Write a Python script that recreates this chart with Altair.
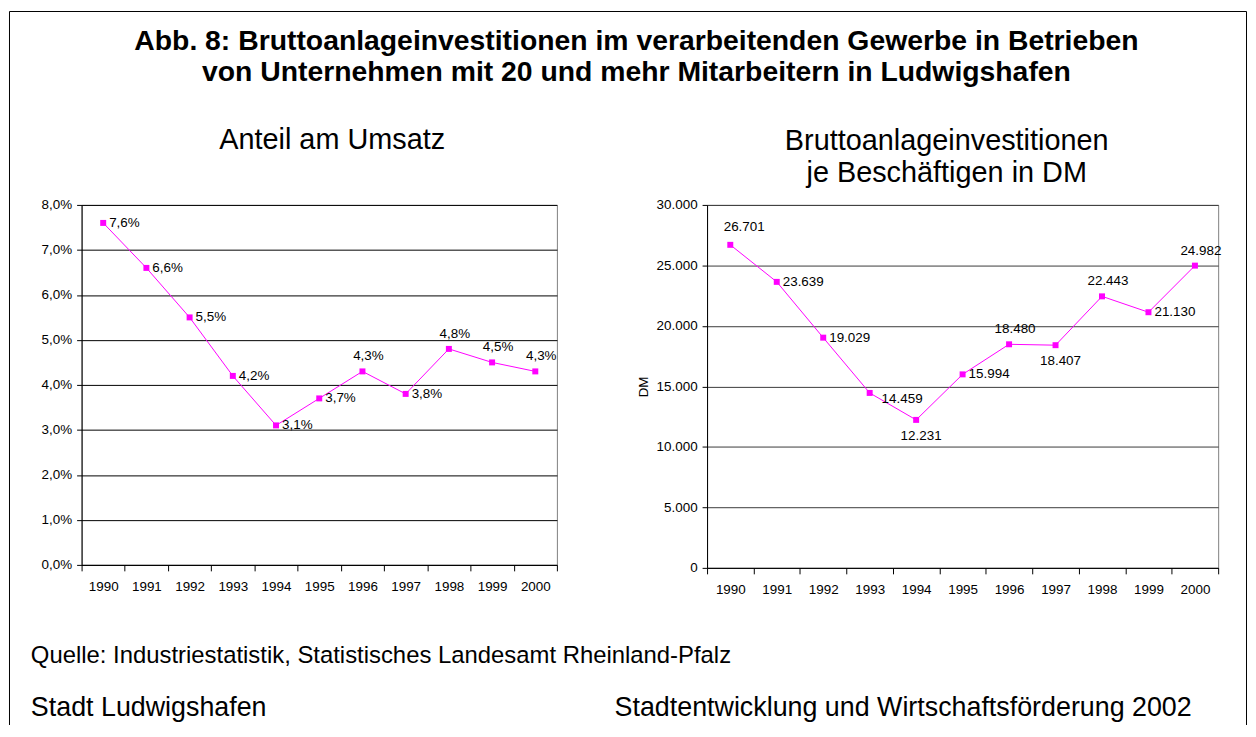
import altair as alt
import pandas as pd

# ---------------- data ----------------
YEARS = [1990, 1991, 1992, 1993, 1994, 1995, 1996, 1997, 1998, 1999, 2000]
SHARE = [0.076, 0.066, 0.055, 0.042, 0.031, 0.037, 0.043, 0.038, 0.048, 0.045, 0.043]
INVEST = [26701, 23639, 19029, 14459, 12231, 15994, 18480, 18407, 22443, 21130, 24982]
SHARE_TICKS = [0, 0.01, 0.02, 0.03, 0.04, 0.05, 0.06, 0.07, 0.08]
INVEST_TICKS = [0, 5000, 10000, 15000, 20000, 25000, 30000]

TITLE_LINES = [
    "Abb. 8: Bruttoanlageinvestitionen im verarbeitenden Gewerbe in Betrieben",
    "von Unternehmen mit 20 und mehr Mitarbeitern in Ludwigshafen",
]
LEFT_TITLE = "Anteil am Umsatz"
RIGHT_TITLE_LINES = ["Bruttoanlageinvestitionen", "je Beschäftigen in DM"]
RIGHT_YTITLE = "DM"
SOURCE = "Quelle: Industriestatistik, Statistisches Landesamt Rheinland-Pfalz"
FOOT_LEFT = "Stadt Ludwigshafen"
FOOT_RIGHT = "Stadtentwicklung und Wirtschaftsförderung 2002"

# which data labels sit where (label placement only)
LEFT_LABEL_GROUPS = {
    "right": [1990, 1991, 1992, 1993, 1994, 1995, 1997],
    "above": [1996, 1998, 1999, 2000],
}
RIGHT_LABEL_GROUPS = {
    "right": [1991, 1992, 1995, 1999],
    "right_low": [1993],
    "above_far": [1990],
    "above": [1996, 1998, 2000],
    "below": [1994, 1997],
}
LABEL_STYLES = {
    "right": dict(align="left", dx=6, dy=0),
    "right_low": dict(align="left", dx=12, dy=6),
    "above": dict(align="center", dx=6, dy=-15),
    "above_far": dict(align="center", dx=14, dy=-18),
    "below": dict(align="center", dx=5, dy=16),
}

MAGENTA = "#FF00FF"
FONT = "Liberation Sans"

share_df = pd.DataFrame({"year": YEARS, "value": SHARE})
invest_df = pd.DataFrame({"year": YEARS, "value": INVEST})

PCT_EXPR = "replace(format({v}, '.1%'), '.', ',')"
THOU_EXPR = "replace(format({v}, ','), ',', '.')"


def panel(df, domain, ticks, fmt, width, height, groups, grid_color, ytitle=None):
    xenc = alt.X(
        "year:O",
        bandPosition=0.5,
        scale=alt.Scale(type="band", paddingInner=0, paddingOuter=0),
        axis=alt.Axis(
            title=None, labelAngle=0, tickBand="extent", grid=False,
            tickSize=6, labelPadding=9, labelFontSize=13.5,
            labelColor="#000", tickColor="#000", domainColor="#000",
        ),
    )
    axis_kw = dict(
        values=ticks, labelExpr=fmt.format(v="datum.value"), grid=True,
        gridColor=grid_color, gridWidth=1, tickSize=5, labelPadding=5,
        labelFontSize=13.5, labelColor="#000", tickColor="#000", domainColor="#000",
    )
    if ytitle:
        axis_kw.update(
            title=ytitle, titleX=-64, titleY=height / 2, titleAngle=270,
            titleAlign="center", titleBaseline="middle", titleFontSize=13.5,
            titleFontWeight="normal", titleColor="#000",
        )
    else:
        axis_kw.update(title=None)
    yenc = alt.Y(
        "value:Q",
        scale=alt.Scale(domain=domain, nice=False, zero=True),
        axis=alt.Axis(**axis_kw),
    )
    base = alt.Chart(df)
    line = base.mark_line(color=MAGENTA, strokeWidth=1).encode(x=xenc, y=yenc)
    pts = base.mark_point(
        shape="square", filled=True, size=36, color=MAGENTA, opacity=1
    ).encode(x=xenc, y=yenc)
    layers = [line, pts]
    for key, yrs in groups.items():
        st = LABEL_STYLES[key]
        layers.append(
            base.transform_filter(alt.FieldOneOfPredicate(field="year", oneOf=yrs))
            .transform_calculate(label=fmt.format(v="datum.value"))
            .mark_text(
                align=st["align"], dx=st["dx"], dy=st["dy"], baseline="middle",
                fontSize=13.5, color="#000",
            )
            .encode(x=xenc, y=yenc, text="label:N")
        )
    return alt.layer(*layers).properties(width=width, height=height)


left = panel(share_df, [0, 0.08], SHARE_TICKS, PCT_EXPR, 478, 362,
             LEFT_LABEL_GROUPS, "#000000")
right = panel(invest_df, [0, 30000], INVEST_TICKS, THOU_EXPR, 514, 365,
              RIGHT_LABEL_GROUPS, "#3a3a3a", ytitle=RIGHT_YTITLE)

# ---------------- frame: titles, footer, border ----------------
one = alt.Chart(pd.DataFrame({"k": [0]}))


def txt(s, x, y, size, weight="normal", align="left"):
    return one.mark_text(
        align=align, baseline="alphabetic", fontSize=size, fontWeight=weight,
        color="#000",
    ).encode(x=alt.value(x), y=alt.value(y), text=alt.value(s))


def rule(**kw):
    return one.mark_rule(color="#000", strokeWidth=1).encode(
        **{k: alt.value(v) for k, v in kw.items()}
    )


# frame origin = bottom-left corner of the left plot area
frame_layers = [
    rule(x=-72.5, y=-559.5, y2=158),
    rule(x=-72.5, x2=1171.5, y=-559.5),
    rule(x=1171.5, y=-559.5, y2=158),
    txt(TITLE_LINES[0], 558, -521, 28.5, "bold", "center"),
    txt(TITLE_LINES[1], 558, -490, 28.5, "bold", "center"),
    txt(LEFT_TITLE, 252, -421, 29, align="center"),
    txt(RIGHT_TITLE_LINES[0], 870, -420, 29, align="center"),
    txt(RIGHT_TITLE_LINES[1], 870, -388, 29, align="center"),
    txt(SOURCE, -51, 96, 24),
    txt(FOOT_LEFT, -51, 149, 27),
    txt(FOOT_RIGHT, 536, 149, 27),
]
frame = alt.layer(*frame_layers).properties(
    width=1, height=1, view=alt.ViewBackground(stroke="transparent")
)

chart = (
    alt.concat(
        left, right, frame, columns=2,
        spacing={"row": 0, "column": 151}, bounds="flush", align="each",
    )
    .properties(padding=0, background="white")
    .configure(font=FONT)
    .configure_view(stroke="#808080", strokeWidth=1)
)

chart.save("out.html", embed_options={"renderer": "svg", "actions": False})
